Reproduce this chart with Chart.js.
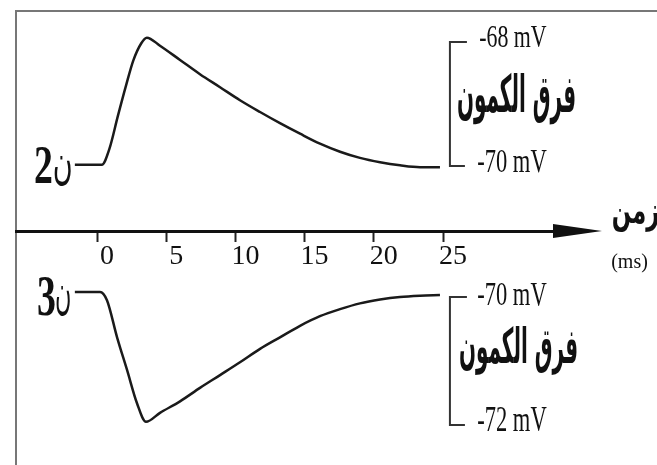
<!DOCTYPE html>
<html>
<head>
<meta charset="utf-8">
<script src="https://cdn.jsdelivr.net/npm/chart.js@4/dist/chart.umd.min.js"></script>
<style>
    body { margin: 0; background: #fff; }
    #wrap { width: 657px; height: 465px; }
</style>
</head>
<body>
<div id="wrap"><canvas id="potChart" width="657" height="465"></canvas></div>
<script>
// time ticks (ms) and the two recorded traces
const timeTicks = [0, 5, 10, 15, 20, 25];

const upperTime = [-1.6, 0.35, 0.9, 1.5, 2.1, 2.62, 3.2, 3.6, 4.55, 6.0, 7.44, 8.89, 10.33, 11.78, 13.22, 14.67, 16.11, 17.56, 19.0, 20.45, 21.89, 23.34, 24.78];
const upperMv = [-69.98, -69.98, -69.72, -69.2, -68.7, -68.3, -68.02, -67.93, -68.06, -68.29, -68.52, -68.73, -68.94, -69.13, -69.31, -69.48, -69.64, -69.77, -69.87, -69.94, -69.99, -70.02, -70.02];

const lowerTime = [-1.6, 0.22, 0.72, 1.45, 2.17, 2.89, 3.54, 4.55, 6.0, 7.44, 8.89, 10.33, 11.78, 13.22, 14.67, 16.11, 17.56, 19.0, 20.45, 21.89, 23.34, 24.78];
const lowerMv = [-69.92, -69.92, -70.05, -70.63, -71.14, -71.66, -71.95, -71.81, -71.63, -71.42, -71.22, -71.02, -70.81, -70.63, -70.45, -70.3, -70.19, -70.1, -70.04, -70.0, -69.98, -69.97];

// bracket scales on the right
const upperRange = [-68, -70];
const lowerRange = [-70, -72];
const bracketTime = 25.5;

const serif = '"Liberation Serif", "DejaVu Serif", serif';
const arabic = '"DejaVu Sans", "Noto Sans", sans-serif';

function toPoints(xs, ys) {
    return xs.map((x, i) => ({ x: x, y: ys[i] }));
}

// draw text squeezed into a pixel box (the scan is stretched vertically)
function fitText(ctx, text, font, x0, y0, x1, y1) {
    ctx.save();
    ctx.font = font;
    ctx.direction = 'ltr';
    ctx.textAlign = 'left';
    ctx.textBaseline = 'alphabetic';
    const m = ctx.measureText(text);
    const w = m.actualBoundingBoxLeft + m.actualBoundingBoxRight;
    const h = m.actualBoundingBoxAscent + m.actualBoundingBoxDescent;
    ctx.translate(x0, y0);
    ctx.scale((x1 - x0) / w, (y1 - y0) / h);
    ctx.fillStyle = '#111';
    ctx.fillText(text, m.actualBoundingBoxLeft, m.actualBoundingBoxAscent);
    ctx.restore();
}

const decorations = {
    id: 'decorations',
    beforeDraw(chart) {
        const ctx = chart.ctx;
        ctx.save();
        ctx.strokeStyle = '#777';
        ctx.lineWidth = 2;
        ctx.beginPath();
        ctx.moveTo(16, 465);
        ctx.lineTo(16, 11);
        ctx.lineTo(657, 11);
        ctx.stroke();
        ctx.restore();
    },
    afterDraw(chart) {
        const ctx = chart.ctx;
        const x = chart.scales.x;
        const yTop = chart.scales.yTop;
        const yBot = chart.scales.yBot;
        const axisY = yTop.getPixelForValue(chart.options.scales.x.position.yTop);

        // arrow head at the end of the time axis
        ctx.save();
        ctx.fillStyle = '#111';
        ctx.beginPath();
        ctx.moveTo(chart.chartArea.right - 12, axisY - 7);
        ctx.lineTo(602, axisY);
        ctx.lineTo(chart.chartArea.right - 12, axisY + 7);
        ctx.closePath();
        ctx.fill();

        // brackets
        const bx = x.getPixelForValue(bracketTime);
        ctx.strokeStyle = '#333';
        ctx.lineWidth = 2;
        [[yTop, upperRange], [yBot, lowerRange]].forEach(([scale, range]) => {
            const ya = scale.getPixelForValue(range[0]);
            const yb = scale.getPixelForValue(range[1]);
            ctx.beginPath();
            ctx.moveTo(bx + 17, ya);
            ctx.lineTo(bx, ya);
            ctx.lineTo(bx, yb);
            ctx.lineTo(bx + 15, yb);
            ctx.stroke();
        });
        ctx.restore();

        const f = '30px ' + serif;
        const fa = 'bold 40px ' + arabic;
        const ua = yTop.getPixelForValue(upperRange[0]);
        const ub = yTop.getPixelForValue(upperRange[1]);
        const la = yBot.getPixelForValue(lowerRange[0]);
        const lb = yBot.getPixelForValue(lowerRange[1]);

        fitText(ctx, '-68 mV', f, bx + 30, ua - 15, bx + 97, ua + 5);
        fitText(ctx, 'فرق الكمون', fa, bx + 8, 72, bx + 125, 125);
        fitText(ctx, '-70 mV', f, bx + 28, ub - 15, bx + 97, ub + 6);
        fitText(ctx, '-70 mV', f, bx + 28, la - 14, bx + 97, la + 8);
        fitText(ctx, 'فرق الكمون', fa, bx + 10, 325, bx + 127, 375);
        fitText(ctx, '-72 mV', f, bx + 28, lb - 17, bx + 97, lb + 6);

        fitText(ctx, '2', 'bold 40px ' + serif, 35, 147, 52, 183);
        fitText(ctx, 'ن', '40px ' + arabic, 54, 155, 71, 185);
        fitText(ctx, '3', 'bold 40px ' + serif, 38, 278, 55, 315);
        fitText(ctx, 'ن', '40px ' + arabic, 56, 285, 70, 315);

        fitText(ctx, 'الزمن', fa, 613, 195, 675, 232);
        fitText(ctx, '(ms)', '24px ' + serif, 612, 253, 647, 273);
    }
};

const ctx = document.getElementById('potChart').getContext('2d');
new Chart(ctx, {
    type: 'line',
    data: {
        datasets: [
            {
                data: toPoints(upperTime, upperMv),
                yAxisID: 'yTop',
                borderColor: '#1a1a1a',
                borderWidth: 2.5,
                pointRadius: 0,
                cubicInterpolationMode: 'monotone'
            },
            {
                data: toPoints(lowerTime, lowerMv),
                yAxisID: 'yBot',
                borderColor: '#1a1a1a',
                borderWidth: 2.5,
                pointRadius: 0,
                cubicInterpolationMode: 'monotone'
            }
        ]
    },
    options: {
        responsive: false,
        animation: false,
        layout: { padding: { left: 16, right: 92, top: 0, bottom: 0 } },
        plugins: {
            legend: { display: false },
            tooltip: { enabled: false }
        },
        scales: {
            x: {
                type: 'linear',
                min: -5.853,
                max: 33.815,
                position: { yTop: -71.05 },
                afterBuildTicks: scale => {
                    scale.ticks = timeTicks.map(v => ({ value: v }));
                },
                grid: {
                    drawOnChartArea: false,
                    drawTicks: true,
                    tickLength: 9,
                    tickWidth: 2,
                    tickColor: '#222'
                },
                border: { display: true, color: '#111', width: 3 },
                ticks: {
                    autoSkip: false,
                    maxRotation: 0,
                    padding: 0,
                    labelOffset: 10,
                    color: '#111',
                    font: { family: serif, size: 28 }
                }
            },
            yTop: {
                type: 'linear',
                display: false,
                min: -74.823,
                max: -67.323
            },
            yBot: {
                type: 'linear',
                display: false,
                min: -72.625,
                max: -65.359
            }
        }
    },
    plugins: [decorations]
});
</script>
</body>
</html>
